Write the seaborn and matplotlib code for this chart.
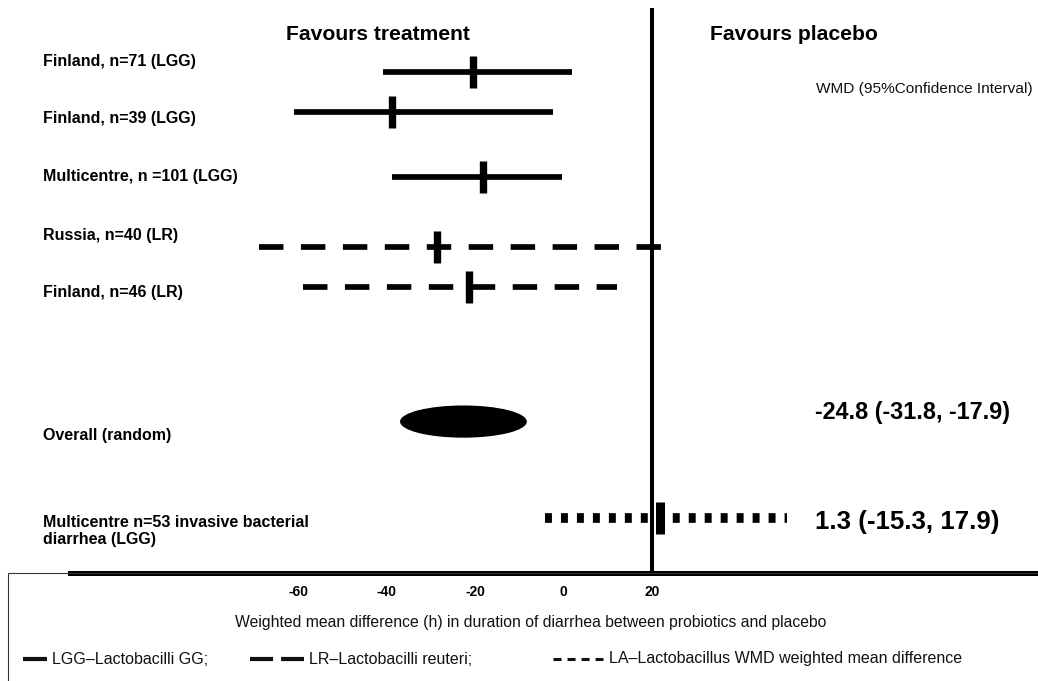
import matplotlib
matplotlib.use("Agg")
import numpy as np
import pandas as pd
import matplotlib.pyplot as plt
import matplotlib.transforms as mtransforms
import seaborn as sns
from matplotlib.patches import Ellipse
from matplotlib.lines import Line2D

# ---- data ----
studies = ["Finland, n=71 (LGG)", "Finland, n=39 (LGG)", "Multicentre, n =101 (LGG)",
           "Russia, n=40 (LR)", "Finland, n=46 (LR)",
           "Multicentre n=53 invasive bacterial\ndiarrhea (LGG)"]
line_kind = ["LGG", "LGG", "LGG", "LR", "LR", "invasive"]
wmd = [-20.4, -38.8, -18.3, -28.7, -21.3, 21.9]
ci_low = [-40.9, -61.0, -38.8, -69.0, -59.0, -4.2]
ci_high = [1.9, -2.3, -0.3, 22.3, 12.0, 50.5]

overall_label = "Overall (random)"
overall_wmd = -22.65
overall_low = -37.0
overall_high = -8.3

overall_text = "-24.8 (-31.8, -17.9)"
invasive_text = "1.3 (-15.3, 17.9)"

tick_vals = [-60, -40, -20, 0, 20]
ref_value = 20

# ---- layout ----
W, H, DPI = 1038, 681, 100
row_y = [1.13, 1.84, 2.99, 4.23, 4.93, 9.03]
label_y = [0.95, 1.96, 2.99, 4.02, 5.03, 9.25]
overall_row = 7.32
overall_label_y = 7.56

sns.set_theme(style="white")
plt.rcParams["font.family"] = ["Liberation Sans", "DejaVu Sans"]
plt.rcParams["text.color"] = "black"
plt.rcParams["lines.solid_capstyle"] = "butt"
plt.rcParams["lines.dash_capstyle"] = "butt"
plt.rcParams["lines.scale_dashes"] = False

fig = plt.figure(figsize=(W / DPI, H / DPI), dpi=DPI)
ax = fig.add_axes([70 / W, 1 - 573 / H, (W - 70) / W, (573 - 8) / H])


def fx(px):
    return px / W


def fy(py):
    return 1 - py / H


df = pd.DataFrame({"study": studies, "kind": line_kind, "row": row_y,
                   "low": ci_low, "high": ci_high, "wmd": wmd})
long = df.melt(id_vars=["study", "kind", "row"], value_vars=["low", "high"],
               value_name="x")

dash_map = {"LGG": "", "LR": (17.6, 12.6), "invasive": (5.0, 6.5)}
width_map = {"LGG": 4.1, "LR": 4.1, "invasive": 7.0}
sns.lineplot(data=long, x="x", y="row", units="study", estimator=None,
             style="kind", dashes=dash_map, size="kind", sizes=width_map,
             color="black", sort=False, legend=False, ax=ax)

# point estimates
main = df[df["kind"] != "invasive"]
inv = df[df["kind"] == "invasive"]
ax.plot(main["wmd"], main["row"], ls="none", marker="|", ms=23, mew=5.3, color="black")
ax.plot(inv["wmd"], inv["row"], ls="none", marker="|", ms=22.5, mew=6.5, color="black")

# pooled estimate
ax.add_patch(Ellipse((overall_wmd, overall_row), width=overall_high - overall_low,
                     height=0.57, facecolor="black", edgecolor="none"))

ax.axvline(ref_value, color="black", lw=2.9)

ax.set_xlim(-111.7, 107.4)
ax.set_ylim(10, 0)
ax.set_xlabel("")
ax.set_ylabel("")
ax.set_yticks([])
ax.set_xticks(tick_vals)
ax.set_xticklabels([str(v) for v in tick_vals], fontsize=10, fontweight="bold")
ax.tick_params(axis="x", length=0, pad=9, colors="black")
for side in ["left", "top", "right"]:
    ax.spines[side].set_visible(False)
ax.spines["bottom"].set_linewidth(3.6)
ax.spines["bottom"].set_color("black")

# study labels on the left
trans = mtransforms.blended_transform_factory(fig.transFigure, ax.transData)
for lab, ly in zip(studies, label_y):
    ax.text(fx(43), ly, lab, transform=trans, ha="left", va="center",
            fontsize=11.5, fontweight="bold", color="black", linespacing=1.15)
ax.text(fx(43), overall_label_y, overall_label, transform=trans, ha="left",
        va="center", fontsize=11.5, fontweight="bold", color="black")

# headers
fig.text(fx(378), fy(34), "Favours treatment", ha="center", va="center",
         fontsize=15.2, fontweight="bold")
fig.text(fx(794), fy(35), "Favours placebo", ha="center", va="center",
         fontsize=15.2, fontweight="bold")
fig.text(fx(816), fy(89), "WMD (95%Confidence Interval)", ha="left", va="center",
         fontsize=11.1, color="#111111")

# result texts
fig.text(fx(815), fy(412), overall_text, ha="left", va="center",
         fontsize=16.8, fontweight="bold")
fig.text(fx(815), fy(522), invasive_text, ha="left", va="center",
         fontsize=18.6, fontweight="bold")

# axis title
fig.text(fx(531), fy(623),
         "Weighted mean difference (h) in duration of diarrhea between probiotics and placebo",
         ha="center", va="center", fontsize=11.3, color="#111111")

# thin frame under the axis
fig.add_artist(Line2D([fx(8), 1.0], [fy(573), fy(573)], lw=0.8, color="#333333"))
fig.add_artist(Line2D([fx(8), fx(8)], [fy(573), 0.0], lw=0.8, color="#333333"))

# key at the bottom
fig.add_artist(Line2D([fx(23), fx(47)], [fy(659), fy(659)], lw=3.0, color="#111111",
                      solid_capstyle="butt"))
fig.text(fx(52), fy(659), "LGG\u2013Lactobacilli GG;", ha="left", va="center",
         fontsize=11.5, color="#111111")
fig.add_artist(Line2D([fx(250), fx(304)], [fy(659), fy(659)], lw=3.0, color="#111111",
                      linestyle=(0, (16.6, 5.8))))
fig.text(fx(309), fy(659), "LR\u2013Lactobacilli reuteri;", ha="left", va="center",
         fontsize=11.5, color="#111111")
fig.add_artist(Line2D([fx(553), fx(603)], [fy(659), fy(659)], lw=2.2, color="#111111",
                      linestyle=(0, (5.8, 4.3))))
fig.text(fx(609), fy(659), "LA\u2013Lactobacillus WMD weighted mean difference",
         ha="left", va="center", fontsize=11.5, color="#111111")

fig.savefig("out.png", dpi=DPI)
